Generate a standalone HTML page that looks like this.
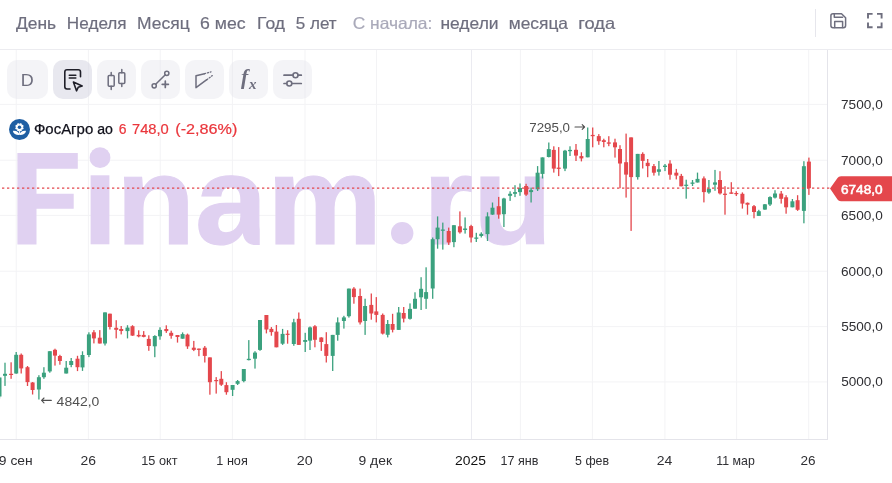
<!DOCTYPE html>
<html><head><meta charset="utf-8"><title>ФосАгро ао</title>
<style>
html,body{margin:0;padding:0;background:#fff;}
body{width:892px;height:483px;position:relative;overflow:hidden;font-family:"Liberation Sans",sans-serif;}
.t{position:absolute;white-space:nowrap;line-height:1;}
.g{will-change:transform;}
.ts{position:absolute;left:0;top:0;pointer-events:none;font-family:"Liberation Sans",sans-serif;}
.topbar{position:absolute;left:0;top:0;width:892px;height:49px;border-bottom:1px solid #ececf0;background:#fff;}
.divider{position:absolute;left:815px;top:9px;width:1px;height:28px;background:#e6e6ec;}
.btn{position:absolute;top:60.2px;height:38.6px;width:38.7px;border-radius:10px;background:rgba(228,228,236,0.40);}
.btn.active{background:rgba(214,214,226,0.55);}
.wm{position:absolute;white-space:nowrap;line-height:1;color:#e0d1f1;font-weight:bold;transform-origin:0 0;-webkit-text-stroke:1.2px #e0d1f1;}
svg{position:absolute;left:0;top:0;}
.logo{position:absolute;left:9.1px;top:119.1px;width:20.8px;height:20.8px;border-radius:50%;background:#1f5fa3;}
</style></head><body>
<div class="chart">
<svg width="892" height="483" viewBox="0 0 892 483">
<g><rect x="15.7" y="50" width="1" height="389.5" fill="#f3f3f5"/><rect x="87.9" y="50" width="1" height="389.5" fill="#f3f3f5"/><rect x="159.7" y="50" width="1" height="389.5" fill="#f3f3f5"/><rect x="231.9" y="50" width="1" height="389.5" fill="#f3f3f5"/><rect x="304.5" y="50" width="1" height="389.5" fill="#f3f3f5"/><rect x="376.0" y="50" width="1" height="389.5" fill="#f3f3f5"/><rect x="471.0" y="50" width="1" height="389.5" fill="#ebebf1"/><rect x="519.9" y="50" width="1" height="389.5" fill="#f3f3f5"/><rect x="591.9" y="50" width="1" height="389.5" fill="#f3f3f5"/><rect x="664.4" y="50" width="1" height="389.5" fill="#f3f3f5"/><rect x="736.1" y="50" width="1" height="389.5" fill="#f3f3f5"/><rect x="808.2" y="50" width="1" height="389.5" fill="#f3f3f5"/><rect x="0" y="103.9" width="827.5" height="1" fill="#f3f3f5"/><rect x="0" y="159.7" width="827.5" height="1" fill="#f3f3f5"/><rect x="0" y="214.9" width="827.5" height="1" fill="#f3f3f5"/><rect x="0" y="270.7" width="827.5" height="1" fill="#f3f3f5"/><rect x="0" y="326.1" width="827.5" height="1" fill="#f3f3f5"/><rect x="0" y="381.4" width="827.5" height="1" fill="#f3f3f5"/></g>
<g fill="#e0d1f1"><rect x="90.6" y="175.3" width="18.8" height="69"/><circle cx="100" cy="157.7" r="10.4"/><circle cx="402.2" cy="233.2" r="11.2"/><path d="M17.4 153H77.8V168.7H36.5V193.8H73.7V208.7H36.5V244.4H17.4Z"/></g>
</svg>
<span class="wm" style="left:116.33px;top:137.93px;font-size:133px;transform:scale(0.9760,0.942);">n</span><span class="wm" style="left:194.71px;top:137.93px;font-size:133px;transform:scale(0.9830,0.942);clip-path:inset(0 8.1px 0 0);">a</span><span class="wm" style="left:266.96px;top:137.93px;font-size:133px;transform:scale(0.9732,0.942);">m</span><span class="wm" style="left:422.51px;top:137.93px;font-size:133px;transform:scale(0.9667,0.942);">r</span><span class="wm" style="left:473.06px;top:137.93px;font-size:133px;transform:scale(0.9745,0.942);">u</span>
<svg width="892" height="483" viewBox="0 0 892 483">
<rect x="827" y="50" width="1" height="390" fill="#e4e4ea"/>
<rect x="0" y="439" width="828" height="1" fill="#e4e4ea"/>
<g><rect x="-1.15" y="377.0" width="1.3" height="21.5" fill="#3ba17e"/><rect x="-2.50" y="377.5" width="4" height="19.0" fill="#3ba17e"/><rect x="4.35" y="362.7" width="1.3" height="23.2" fill="#3ba17e"/><rect x="3.00" y="373.8" width="4" height="2.0" fill="#3ba17e"/><rect x="10.45" y="362.3" width="1.3" height="16.5" fill="#e4474c"/><rect x="9.10" y="373.8" width="4" height="1.2" fill="#e4474c"/><rect x="15.55" y="352.0" width="1.3" height="21.8" fill="#3ba17e"/><rect x="14.20" y="354.8" width="4" height="18.7" fill="#3ba17e"/><rect x="20.55" y="353.5" width="1.3" height="20.0" fill="#e4474c"/><rect x="19.20" y="354.8" width="4" height="13.6" fill="#e4474c"/><rect x="26.85" y="366.0" width="1.3" height="20.0" fill="#e4474c"/><rect x="25.50" y="367.2" width="4" height="14.9" fill="#e4474c"/><rect x="31.95" y="382.0" width="1.3" height="12.5" fill="#e4474c"/><rect x="30.60" y="382.5" width="4" height="7.5" fill="#e4474c"/><rect x="38.25" y="375.2" width="1.3" height="24.3" fill="#3ba17e"/><rect x="36.90" y="377.2" width="4" height="12.3" fill="#3ba17e"/><rect x="43.25" y="367.2" width="1.3" height="11.6" fill="#3ba17e"/><rect x="41.90" y="372.7" width="4" height="4.5" fill="#3ba17e"/><rect x="49.15" y="351.2" width="1.3" height="21.5" fill="#3ba17e"/><rect x="47.80" y="351.2" width="4" height="20.2" fill="#3ba17e"/><rect x="54.35" y="348.7" width="1.3" height="16.9" fill="#e4474c"/><rect x="53.00" y="349.8" width="4" height="5.8" fill="#e4474c"/><rect x="59.25" y="354.8" width="1.3" height="9.9" fill="#e4474c"/><rect x="57.90" y="356.0" width="4" height="5.0" fill="#e4474c"/><rect x="65.55" y="361.0" width="1.3" height="12.5" fill="#3ba17e"/><rect x="64.20" y="367.7" width="4" height="5.8" fill="#3ba17e"/><rect x="70.55" y="358.0" width="1.3" height="9.2" fill="#3ba17e"/><rect x="69.20" y="361.0" width="4" height="4.0" fill="#3ba17e"/><rect x="76.85" y="355.8" width="1.3" height="15.3" fill="#e4474c"/><rect x="75.50" y="358.7" width="4" height="8.5" fill="#e4474c"/><rect x="81.85" y="351.3" width="1.3" height="19.6" fill="#3ba17e"/><rect x="80.50" y="355.0" width="4" height="12.4" fill="#3ba17e"/><rect x="88.25" y="332.3" width="1.3" height="24.8" fill="#3ba17e"/><rect x="86.90" y="334.4" width="4" height="20.6" fill="#3ba17e"/><rect x="93.25" y="330.1" width="1.3" height="13.3" fill="#e4474c"/><rect x="91.90" y="332.3" width="4" height="6.1" fill="#e4474c"/><rect x="99.15" y="330.1" width="1.3" height="13.4" fill="#e4474c"/><rect x="97.80" y="337.7" width="4" height="5.8" fill="#e4474c"/><rect x="104.35" y="312.4" width="1.3" height="33.1" fill="#3ba17e"/><rect x="103.00" y="312.4" width="4" height="31.1" fill="#3ba17e"/><rect x="109.25" y="313.7" width="1.3" height="15.8" fill="#e4474c"/><rect x="107.90" y="313.7" width="4" height="13.3" fill="#e4474c"/><rect x="115.55" y="320.2" width="1.3" height="18.2" fill="#e4474c"/><rect x="114.20" y="327.8" width="4" height="2.0" fill="#e4474c"/><rect x="120.55" y="326.0" width="1.3" height="8.4" fill="#e4474c"/><rect x="119.20" y="329.0" width="4" height="2.0" fill="#e4474c"/><rect x="126.85" y="325.2" width="1.3" height="13.2" fill="#3ba17e"/><rect x="125.50" y="327.6" width="4" height="3.5" fill="#3ba17e"/><rect x="131.85" y="325.2" width="1.3" height="10.7" fill="#e4474c"/><rect x="130.50" y="326.2" width="4" height="9.4" fill="#e4474c"/><rect x="138.05" y="330.3" width="1.3" height="7.0" fill="#e4474c"/><rect x="136.70" y="334.9" width="4" height="1.5" fill="#e4474c"/><rect x="143.05" y="331.1" width="1.3" height="6.2" fill="#e4474c"/><rect x="141.70" y="334.9" width="4" height="2.0" fill="#e4474c"/><rect x="148.15" y="335.3" width="1.3" height="15.5" fill="#e4474c"/><rect x="146.80" y="338.9" width="4" height="7.1" fill="#e4474c"/><rect x="154.15" y="335.2" width="1.3" height="22.0" fill="#3ba17e"/><rect x="152.80" y="336.0" width="4" height="10.3" fill="#3ba17e"/><rect x="159.35" y="327.3" width="1.3" height="12.4" fill="#3ba17e"/><rect x="158.00" y="329.9" width="4" height="6.4" fill="#3ba17e"/><rect x="165.65" y="325.3" width="1.3" height="7.6" fill="#e4474c"/><rect x="164.30" y="329.0" width="4" height="2.1" fill="#e4474c"/><rect x="170.55" y="330.7" width="1.3" height="8.0" fill="#e4474c"/><rect x="169.20" y="332.8" width="4" height="3.0" fill="#e4474c"/><rect x="176.85" y="335.0" width="1.3" height="7.6" fill="#e4474c"/><rect x="175.50" y="335.0" width="4" height="2.0" fill="#e4474c"/><rect x="181.95" y="332.4" width="1.3" height="6.3" fill="#3ba17e"/><rect x="180.60" y="334.1" width="4" height="4.6" fill="#3ba17e"/><rect x="186.85" y="333.6" width="1.3" height="15.3" fill="#e4474c"/><rect x="185.50" y="334.6" width="4" height="11.8" fill="#e4474c"/><rect x="193.15" y="340.9" width="1.3" height="10.2" fill="#e4474c"/><rect x="191.80" y="347.7" width="4" height="2.2" fill="#e4474c"/><rect x="198.25" y="348.6" width="1.3" height="7.6" fill="#e4474c"/><rect x="196.90" y="348.6" width="4" height="1.3" fill="#e4474c"/><rect x="204.15" y="346.0" width="1.3" height="16.5" fill="#e4474c"/><rect x="202.80" y="347.7" width="4" height="8.2" fill="#e4474c"/><rect x="209.25" y="357.4" width="1.3" height="37.3" fill="#e4474c"/><rect x="207.90" y="357.4" width="4" height="24.8" fill="#e4474c"/><rect x="215.55" y="377.1" width="1.3" height="16.5" fill="#e4474c"/><rect x="214.20" y="380.0" width="4" height="1.2" fill="#e4474c"/><rect x="220.65" y="371.1" width="1.3" height="14.8" fill="#e4474c"/><rect x="219.30" y="378.8" width="4" height="5.9" fill="#e4474c"/><rect x="225.75" y="382.2" width="1.3" height="12.5" fill="#e4474c"/><rect x="224.40" y="385.1" width="4" height="7.1" fill="#e4474c"/><rect x="231.95" y="385.0" width="1.3" height="11.0" fill="#3ba17e"/><rect x="230.60" y="385.0" width="4" height="4.8" fill="#3ba17e"/><rect x="236.95" y="380.0" width="1.3" height="5.0" fill="#3ba17e"/><rect x="235.60" y="381.1" width="4" height="2.7" fill="#3ba17e"/><rect x="243.15" y="369.0" width="1.3" height="13.3" fill="#3ba17e"/><rect x="241.80" y="369.0" width="4" height="12.1" fill="#3ba17e"/><rect x="248.15" y="340.1" width="1.3" height="20.3" fill="#3ba17e"/><rect x="246.80" y="358.8" width="4" height="1.3" fill="#3ba17e"/><rect x="254.35" y="351.2" width="1.3" height="17.4" fill="#3ba17e"/><rect x="253.00" y="352.6" width="4" height="6.1" fill="#3ba17e"/><rect x="259.35" y="320.0" width="1.3" height="30.8" fill="#3ba17e"/><rect x="258.00" y="320.0" width="4" height="29.9" fill="#3ba17e"/><rect x="265.75" y="315.0" width="1.3" height="18.4" fill="#e4474c"/><rect x="264.40" y="315.0" width="4" height="14.5" fill="#e4474c"/><rect x="270.75" y="327.1" width="1.3" height="8.6" fill="#e4474c"/><rect x="269.40" y="328.9" width="4" height="3.2" fill="#e4474c"/><rect x="275.75" y="325.0" width="1.3" height="22.3" fill="#e4474c"/><rect x="274.40" y="331.6" width="4" height="15.7" fill="#e4474c"/><rect x="281.95" y="328.9" width="1.3" height="16.0" fill="#3ba17e"/><rect x="280.60" y="333.9" width="4" height="9.8" fill="#3ba17e"/><rect x="286.95" y="330.2" width="1.3" height="13.5" fill="#e4474c"/><rect x="285.60" y="333.7" width="4" height="1.2" fill="#e4474c"/><rect x="293.15" y="318.8" width="1.3" height="27.0" fill="#3ba17e"/><rect x="291.80" y="322.3" width="4" height="21.7" fill="#3ba17e"/><rect x="298.15" y="312.5" width="1.3" height="32.4" fill="#e4474c"/><rect x="296.80" y="318.8" width="4" height="26.1" fill="#e4474c"/><rect x="304.55" y="332.8" width="1.3" height="19.2" fill="#3ba17e"/><rect x="303.20" y="340.0" width="4" height="1.9" fill="#3ba17e"/><rect x="309.35" y="326.5" width="1.3" height="23.5" fill="#3ba17e"/><rect x="308.00" y="327.4" width="4" height="13.2" fill="#3ba17e"/><rect x="314.25" y="325.1" width="1.3" height="22.2" fill="#e4474c"/><rect x="312.90" y="326.3" width="4" height="13.5" fill="#e4474c"/><rect x="320.65" y="337.2" width="1.3" height="13.7" fill="#e4474c"/><rect x="319.30" y="337.5" width="4" height="4.5" fill="#e4474c"/><rect x="325.65" y="332.2" width="1.3" height="30.3" fill="#e4474c"/><rect x="324.30" y="344.1" width="4" height="11.8" fill="#e4474c"/><rect x="332.05" y="334.9" width="1.3" height="36.1" fill="#3ba17e"/><rect x="330.70" y="334.9" width="4" height="21.0" fill="#3ba17e"/><rect x="337.05" y="317.4" width="1.3" height="23.3" fill="#3ba17e"/><rect x="335.70" y="322.4" width="4" height="12.5" fill="#3ba17e"/><rect x="343.25" y="315.8" width="1.3" height="12.8" fill="#3ba17e"/><rect x="341.90" y="317.4" width="4" height="3.6" fill="#3ba17e"/><rect x="348.25" y="288.6" width="1.3" height="29.0" fill="#3ba17e"/><rect x="346.90" y="288.6" width="4" height="27.6" fill="#3ba17e"/><rect x="353.25" y="287.1" width="1.3" height="16.6" fill="#e4474c"/><rect x="351.90" y="288.6" width="4" height="8.5" fill="#e4474c"/><rect x="359.45" y="288.6" width="1.3" height="35.9" fill="#e4474c"/><rect x="358.10" y="296.0" width="4" height="26.4" fill="#e4474c"/><rect x="364.45" y="298.7" width="1.3" height="36.2" fill="#3ba17e"/><rect x="363.10" y="306.0" width="4" height="15.0" fill="#3ba17e"/><rect x="370.65" y="293.5" width="1.3" height="26.2" fill="#e4474c"/><rect x="369.30" y="304.9" width="4" height="8.6" fill="#e4474c"/><rect x="375.65" y="297.1" width="1.3" height="25.3" fill="#e4474c"/><rect x="374.30" y="311.4" width="4" height="3.5" fill="#e4474c"/><rect x="382.05" y="313.5" width="1.3" height="21.0" fill="#e4474c"/><rect x="380.70" y="314.9" width="4" height="18.7" fill="#e4474c"/><rect x="387.05" y="320.0" width="1.3" height="17.4" fill="#3ba17e"/><rect x="385.70" y="324.0" width="4" height="10.8" fill="#3ba17e"/><rect x="391.95" y="313.8" width="1.3" height="18.6" fill="#e4474c"/><rect x="390.60" y="324.0" width="4" height="5.8" fill="#e4474c"/><rect x="398.05" y="307.0" width="1.3" height="22.9" fill="#3ba17e"/><rect x="396.70" y="312.5" width="4" height="17.4" fill="#3ba17e"/><rect x="403.05" y="307.0" width="1.3" height="15.4" fill="#e4474c"/><rect x="401.70" y="313.0" width="4" height="5.6" fill="#e4474c"/><rect x="409.35" y="303.4" width="1.3" height="16.2" fill="#3ba17e"/><rect x="408.00" y="308.9" width="4" height="9.9" fill="#3ba17e"/><rect x="414.35" y="292.3" width="1.3" height="16.4" fill="#3ba17e"/><rect x="413.00" y="298.8" width="4" height="9.9" fill="#3ba17e"/><rect x="420.45" y="277.2" width="1.3" height="32.8" fill="#3ba17e"/><rect x="419.10" y="288.8" width="4" height="8.5" fill="#3ba17e"/><rect x="425.45" y="267.3" width="1.3" height="41.6" fill="#3ba17e"/><rect x="424.10" y="292.1" width="4" height="6.7" fill="#3ba17e"/><rect x="432.05" y="237.5" width="1.3" height="61.3" fill="#3ba17e"/><rect x="430.70" y="239.2" width="4" height="49.3" fill="#3ba17e"/><rect x="436.95" y="216.4" width="1.3" height="32.3" fill="#3ba17e"/><rect x="435.60" y="227.6" width="4" height="11.6" fill="#3ba17e"/><rect x="442.15" y="222.6" width="1.3" height="27.0" fill="#3ba17e"/><rect x="440.80" y="229.5" width="4" height="1.3" fill="#3ba17e"/><rect x="448.05" y="227.6" width="1.3" height="17.3" fill="#e4474c"/><rect x="446.70" y="231.0" width="4" height="11.5" fill="#e4474c"/><rect x="453.25" y="225.2" width="1.3" height="22.0" fill="#3ba17e"/><rect x="451.90" y="225.2" width="4" height="16.9" fill="#3ba17e"/><rect x="459.25" y="211.4" width="1.3" height="22.2" fill="#e4474c"/><rect x="457.90" y="226.3" width="4" height="6.0" fill="#e4474c"/><rect x="464.45" y="217.4" width="1.3" height="16.2" fill="#3ba17e"/><rect x="463.10" y="228.5" width="4" height="1.5" fill="#3ba17e"/><rect x="470.45" y="224.8" width="1.3" height="17.7" fill="#e4474c"/><rect x="469.10" y="226.1" width="4" height="11.4" fill="#e4474c"/><rect x="475.65" y="232.8" width="1.3" height="9.2" fill="#3ba17e"/><rect x="474.30" y="237.5" width="4" height="1.3" fill="#3ba17e"/><rect x="480.65" y="232.3" width="1.3" height="5.2" fill="#3ba17e"/><rect x="479.30" y="233.8" width="4" height="2.2" fill="#3ba17e"/><rect x="486.85" y="212.3" width="1.3" height="28.7" fill="#3ba17e"/><rect x="485.50" y="216.4" width="4" height="17.7" fill="#3ba17e"/><rect x="491.85" y="202.5" width="1.3" height="12.4" fill="#3ba17e"/><rect x="490.50" y="207.7" width="4" height="6.9" fill="#3ba17e"/><rect x="498.05" y="196.9" width="1.3" height="21.8" fill="#e4474c"/><rect x="496.70" y="206.2" width="4" height="8.4" fill="#e4474c"/><rect x="503.25" y="197.8" width="1.3" height="29.2" fill="#3ba17e"/><rect x="501.90" y="198.5" width="4" height="15.7" fill="#3ba17e"/><rect x="509.45" y="191.3" width="1.3" height="9.6" fill="#3ba17e"/><rect x="508.10" y="193.8" width="4" height="2.0" fill="#3ba17e"/><rect x="514.35" y="185.2" width="1.3" height="11.9" fill="#3ba17e"/><rect x="513.00" y="192.1" width="4" height="1.7" fill="#3ba17e"/><rect x="519.35" y="183.5" width="1.3" height="12.3" fill="#3ba17e"/><rect x="518.00" y="188.0" width="4" height="4.1" fill="#3ba17e"/><rect x="525.45" y="183.8" width="1.3" height="12.1" fill="#e4474c"/><rect x="524.10" y="186.0" width="4" height="8.6" fill="#e4474c"/><rect x="530.45" y="187.6" width="1.3" height="14.9" fill="#3ba17e"/><rect x="529.10" y="190.1" width="4" height="2.0" fill="#3ba17e"/><rect x="536.95" y="166.1" width="1.3" height="24.9" fill="#3ba17e"/><rect x="535.60" y="172.7" width="4" height="16.6" fill="#3ba17e"/><rect x="541.85" y="157.4" width="1.3" height="21.1" fill="#3ba17e"/><rect x="540.50" y="157.4" width="4" height="16.5" fill="#3ba17e"/><rect x="548.15" y="142.5" width="1.3" height="14.9" fill="#3ba17e"/><rect x="546.80" y="149.1" width="4" height="7.9" fill="#3ba17e"/><rect x="553.15" y="146.3" width="1.3" height="26.3" fill="#e4474c"/><rect x="551.80" y="149.9" width="4" height="18.7" fill="#e4474c"/><rect x="558.05" y="147.1" width="1.3" height="29.0" fill="#e4474c"/><rect x="556.70" y="167.6" width="4" height="1.3" fill="#e4474c"/><rect x="564.35" y="149.9" width="1.3" height="21.2" fill="#3ba17e"/><rect x="563.00" y="150.7" width="4" height="17.9" fill="#3ba17e"/><rect x="569.35" y="146.3" width="1.3" height="9.7" fill="#3ba17e"/><rect x="568.00" y="149.9" width="4" height="1.3" fill="#3ba17e"/><rect x="575.35" y="144.0" width="1.3" height="17.0" fill="#e4474c"/><rect x="574.00" y="149.8" width="4" height="5.8" fill="#e4474c"/><rect x="580.75" y="152.3" width="1.3" height="9.1" fill="#e4474c"/><rect x="579.40" y="156.1" width="4" height="2.3" fill="#e4474c"/><rect x="587.05" y="127.5" width="1.3" height="29.8" fill="#3ba17e"/><rect x="585.70" y="139.0" width="4" height="18.3" fill="#3ba17e"/><rect x="592.05" y="127.5" width="1.3" height="19.8" fill="#e4474c"/><rect x="590.70" y="134.9" width="4" height="1.3" fill="#e4474c"/><rect x="598.15" y="134.1" width="1.3" height="10.7" fill="#e4474c"/><rect x="596.80" y="136.1" width="4" height="5.1" fill="#e4474c"/><rect x="603.15" y="138.7" width="1.3" height="8.6" fill="#e4474c"/><rect x="601.80" y="140.2" width="4" height="1.8" fill="#e4474c"/><rect x="608.15" y="136.2" width="1.3" height="10.0" fill="#e4474c"/><rect x="606.80" y="142.4" width="4" height="1.3" fill="#e4474c"/><rect x="614.35" y="138.7" width="1.3" height="18.9" fill="#e4474c"/><rect x="613.00" y="142.4" width="4" height="4.9" fill="#e4474c"/><rect x="619.35" y="145.2" width="1.3" height="43.0" fill="#e4474c"/><rect x="618.00" y="149.0" width="4" height="14.5" fill="#e4474c"/><rect x="625.45" y="133.6" width="1.3" height="64.0" fill="#e4474c"/><rect x="624.10" y="162.2" width="4" height="12.4" fill="#e4474c"/><rect x="630.45" y="137.4" width="1.3" height="93.5" fill="#e4474c"/><rect x="629.10" y="137.4" width="4" height="39.7" fill="#e4474c"/><rect x="637.05" y="153.9" width="1.3" height="25.7" fill="#3ba17e"/><rect x="635.70" y="153.9" width="4" height="23.2" fill="#3ba17e"/><rect x="642.05" y="152.3" width="1.3" height="16.2" fill="#e4474c"/><rect x="640.70" y="153.9" width="4" height="7.0" fill="#e4474c"/><rect x="647.05" y="159.0" width="1.3" height="18.2" fill="#e4474c"/><rect x="645.70" y="162.8" width="4" height="3.3" fill="#e4474c"/><rect x="653.25" y="164.0" width="1.3" height="11.6" fill="#e4474c"/><rect x="651.90" y="166.1" width="4" height="6.6" fill="#e4474c"/><rect x="658.25" y="161.0" width="1.3" height="14.6" fill="#3ba17e"/><rect x="656.90" y="169.3" width="4" height="2.5" fill="#3ba17e"/><rect x="664.35" y="164.0" width="1.3" height="7.1" fill="#3ba17e"/><rect x="663.00" y="165.6" width="4" height="1.4" fill="#3ba17e"/><rect x="669.35" y="160.2" width="1.3" height="19.5" fill="#e4474c"/><rect x="668.00" y="163.6" width="4" height="11.1" fill="#e4474c"/><rect x="675.65" y="168.9" width="1.3" height="10.5" fill="#e4474c"/><rect x="674.30" y="172.7" width="4" height="2.9" fill="#e4474c"/><rect x="680.65" y="173.9" width="1.3" height="12.4" fill="#e4474c"/><rect x="679.30" y="175.9" width="4" height="10.4" fill="#e4474c"/><rect x="685.55" y="179.7" width="1.3" height="19.0" fill="#3ba17e"/><rect x="684.20" y="184.7" width="4" height="1.2" fill="#3ba17e"/><rect x="691.85" y="180.0" width="1.3" height="6.0" fill="#3ba17e"/><rect x="690.50" y="182.5" width="4" height="1.3" fill="#3ba17e"/><rect x="696.85" y="172.6" width="1.3" height="9.9" fill="#3ba17e"/><rect x="695.50" y="178.9" width="4" height="3.6" fill="#3ba17e"/><rect x="703.25" y="176.4" width="1.3" height="26.0" fill="#e4474c"/><rect x="701.90" y="178.4" width="4" height="13.7" fill="#e4474c"/><rect x="708.25" y="180.0" width="1.3" height="13.8" fill="#3ba17e"/><rect x="706.90" y="188.8" width="4" height="3.7" fill="#3ba17e"/><rect x="714.35" y="169.9" width="1.3" height="20.9" fill="#3ba17e"/><rect x="713.00" y="182.4" width="4" height="2.3" fill="#3ba17e"/><rect x="719.35" y="171.2" width="1.3" height="23.3" fill="#e4474c"/><rect x="718.00" y="180.0" width="4" height="13.4" fill="#e4474c"/><rect x="724.35" y="186.2" width="1.3" height="28.5" fill="#e4474c"/><rect x="723.00" y="193.7" width="4" height="1.2" fill="#e4474c"/><rect x="730.65" y="182.2" width="1.3" height="11.6" fill="#e4474c"/><rect x="729.30" y="192.4" width="4" height="1.4" fill="#e4474c"/><rect x="735.65" y="191.2" width="1.3" height="4.8" fill="#e4474c"/><rect x="734.30" y="193.0" width="4" height="1.2" fill="#e4474c"/><rect x="741.75" y="192.4" width="1.3" height="16.2" fill="#e4474c"/><rect x="740.40" y="193.8" width="4" height="9.8" fill="#e4474c"/><rect x="746.85" y="202.5" width="1.3" height="12.2" fill="#e4474c"/><rect x="745.50" y="202.8" width="4" height="1.9" fill="#e4474c"/><rect x="753.35" y="205.0" width="1.3" height="13.3" fill="#e4474c"/><rect x="752.00" y="206.2" width="4" height="5.8" fill="#e4474c"/><rect x="758.15" y="209.8" width="1.3" height="6.1" fill="#3ba17e"/><rect x="756.80" y="211.2" width="4" height="4.7" fill="#3ba17e"/><rect x="764.25" y="204.0" width="1.3" height="5.8" fill="#3ba17e"/><rect x="762.90" y="204.3" width="4" height="5.3" fill="#3ba17e"/><rect x="769.35" y="196.3" width="1.3" height="9.7" fill="#3ba17e"/><rect x="768.00" y="197.1" width="4" height="7.4" fill="#3ba17e"/><rect x="774.35" y="190.2" width="1.3" height="8.3" fill="#3ba17e"/><rect x="773.00" y="193.5" width="4" height="4.1" fill="#3ba17e"/><rect x="780.55" y="191.0" width="1.3" height="12.6" fill="#e4474c"/><rect x="779.20" y="193.6" width="4" height="5.2" fill="#e4474c"/><rect x="785.45" y="195.2" width="1.3" height="18.5" fill="#e4474c"/><rect x="784.10" y="197.3" width="4" height="10.0" fill="#e4474c"/><rect x="791.75" y="199.0" width="1.3" height="8.3" fill="#3ba17e"/><rect x="790.40" y="201.3" width="4" height="6.0" fill="#3ba17e"/><rect x="796.95" y="195.2" width="1.3" height="15.7" fill="#e4474c"/><rect x="795.60" y="200.2" width="4" height="9.6" fill="#e4474c"/><rect x="803.25" y="161.2" width="1.3" height="62.1" fill="#3ba17e"/><rect x="801.90" y="166.2" width="4" height="44.7" fill="#3ba17e"/><rect x="808.25" y="157.6" width="1.3" height="37.3" fill="#e4474c"/><rect x="806.90" y="161.6" width="4" height="26.6" fill="#e4474c"/></g>
<line x1="-3" y1="188.1" x2="832" y2="188.1" stroke="#e4474c" stroke-width="1.3" stroke-dasharray="2.3 2.7"/>
<path d="M830 188.5 L837.5 178 Q838.5 176.3 841 176.3 L892 176.3 L892 201.3 L841 201.3 Q838.5 201.3 837.5 199.6 Z" fill="#e4474c"/>
<g stroke="#505050" stroke-width="1.1" fill="none" stroke-linecap="round" stroke-linejoin="round">
<path d="M51.3 400.4H41.6M44 398L41.6 400.4L44 402.8"/>
<path d="M575 127H584.6M582.2 124.6L584.6 127L582.2 129.4"/>
</g>
</svg>
</div>
<div class="logo"></div>
<svg class="ts g" width="892" height="483" viewBox="0 0 892 483">
<text x="841.06" y="108.90" font-size="12.8" fill="#2f2f33" textLength="41.67" lengthAdjust="spacingAndGlyphs">7500,0</text>
<text x="841.06" y="164.70" font-size="12.8" fill="#2f2f33" textLength="41.67" lengthAdjust="spacingAndGlyphs">7000,0</text>
<text x="841.06" y="219.90" font-size="12.8" fill="#2f2f33" textLength="41.67" lengthAdjust="spacingAndGlyphs">6500,0</text>
<text x="841.06" y="275.70" font-size="12.8" fill="#2f2f33" textLength="41.67" lengthAdjust="spacingAndGlyphs">6000,0</text>
<text x="841.19" y="331.10" font-size="12.8" fill="#2f2f33" textLength="41.54" lengthAdjust="spacingAndGlyphs">5500,0</text>
<text x="841.19" y="386.40" font-size="12.8" fill="#2f2f33" textLength="41.54" lengthAdjust="spacingAndGlyphs">5000,0</text>
<text x="840.96" y="193.60" font-size="12.8" fill="#fff" stroke="#fff" stroke-width="0.55" textLength="41.67" lengthAdjust="spacingAndGlyphs">6748,0</text>
<text x="-1.18" y="464.90" font-size="12.8" fill="#2f2f33" textLength="33.84" lengthAdjust="spacingAndGlyphs">9 сен</text>
<text x="80.56" y="464.90" font-size="12.8" fill="#2f2f33" textLength="15.48" lengthAdjust="spacingAndGlyphs">26</text>
<text x="141.24" y="464.90" font-size="12.8" fill="#2f2f33" textLength="36.29" lengthAdjust="spacingAndGlyphs">15 окт</text>
<text x="216.34" y="464.90" font-size="12.8" fill="#2f2f33" textLength="31.44" lengthAdjust="spacingAndGlyphs">1 ноя</text>
<text x="296.76" y="464.90" font-size="12.8" fill="#2f2f33" textLength="15.92" lengthAdjust="spacingAndGlyphs">20</text>
<text x="358.52" y="464.90" font-size="12.8" fill="#2f2f33" textLength="33.53" lengthAdjust="spacingAndGlyphs">9 дек</text>
<text x="455.06" y="464.90" font-size="12.8" fill="#111" textLength="30.85" lengthAdjust="spacingAndGlyphs">2025</text>
<text x="500.44" y="464.90" font-size="12.8" fill="#2f2f33" textLength="37.87" lengthAdjust="spacingAndGlyphs">17 янв</text>
<text x="575.09" y="464.90" font-size="12.8" fill="#2f2f33" textLength="34.01" lengthAdjust="spacingAndGlyphs">5 фев</text>
<text x="656.76" y="464.90" font-size="12.8" fill="#2f2f33" textLength="15.55" lengthAdjust="spacingAndGlyphs">24</text>
<text x="716.34" y="464.90" font-size="12.8" fill="#2f2f33" textLength="38.48" lengthAdjust="spacingAndGlyphs">11 мар</text>
<text x="800.56" y="464.90" font-size="12.8" fill="#2f2f33" textLength="15.08" lengthAdjust="spacingAndGlyphs">26</text>
<text x="56.64" y="405.80" font-size="12.8" fill="#505050" textLength="42.69" lengthAdjust="spacingAndGlyphs">4842,0</text>
<text x="529.26" y="132.30" font-size="12.8" fill="#505050" textLength="40.77" lengthAdjust="spacingAndGlyphs">7295,0</text>
</svg>
<svg class="ts" width="892" height="483" viewBox="0 0 892 483">
<text x="33.94" y="133.90" font-size="13.8" fill="#12121c" stroke="#12121c" stroke-width="0.25" textLength="59.32" lengthAdjust="spacingAndGlyphs">ФосАгро</text>
<text x="97.15" y="133.90" font-size="13.8" fill="#12121c" stroke="#12121c" stroke-width="0.25" textLength="15.74" lengthAdjust="spacingAndGlyphs">ао</text>
<text x="118.71" y="133.90" font-size="13.8" fill="#ea363c" stroke="#ea363c" stroke-width="0.2" textLength="7.76" lengthAdjust="spacingAndGlyphs">6</text>
<text x="132.01" y="133.90" font-size="13.8" fill="#ea363c" stroke="#ea363c" stroke-width="0.2" textLength="36.81" lengthAdjust="spacingAndGlyphs">748,0</text>
<text x="175.27" y="133.90" font-size="13.8" fill="#ea363c" stroke="#ea363c" stroke-width="0.2" textLength="62.02" lengthAdjust="spacingAndGlyphs">(-2,86%)</text>
</svg>

<div class="topbar"></div>
<div class="divider"></div>

<svg class="ts g" width="892" height="483" viewBox="0 0 892 483">
<text x="16.02" y="28.50" font-size="16.5" fill="#6e6e7e" stroke="#6e6e7e" stroke-width="0.2" textLength="40.17" lengthAdjust="spacingAndGlyphs">День</text>
<text x="66.88" y="28.50" font-size="16.5" fill="#6e6e7e" stroke="#6e6e7e" stroke-width="0.2" textLength="59.74" lengthAdjust="spacingAndGlyphs">Неделя</text>
<text x="137.08" y="28.50" font-size="16.5" fill="#6e6e7e" stroke="#6e6e7e" stroke-width="0.2" textLength="52.63" lengthAdjust="spacingAndGlyphs">Месяц</text>
<text x="200.08" y="28.50" font-size="16.5" fill="#6e6e7e" stroke="#6e6e7e" stroke-width="0.2" textLength="45.60" lengthAdjust="spacingAndGlyphs">6 мес</text>
<text x="257.08" y="28.50" font-size="16.5" fill="#6e6e7e" stroke="#6e6e7e" stroke-width="0.2" textLength="27.91" lengthAdjust="spacingAndGlyphs">Год</text>
<text x="295.74" y="28.50" font-size="16.5" fill="#6e6e7e" stroke="#6e6e7e" stroke-width="0.2" textLength="40.87" lengthAdjust="spacingAndGlyphs">5 лет</text>
<text x="352.68" y="28.50" font-size="16.5" fill="#a9a9b9" stroke="#a9a9b9" stroke-width="0.2" textLength="79.63" lengthAdjust="spacingAndGlyphs">С начала:</text>
<text x="440.45" y="28.50" font-size="16.5" fill="#6e6e7e" stroke="#6e6e7e" stroke-width="0.2" textLength="58.11" lengthAdjust="spacingAndGlyphs">недели</text>
<text x="508.75" y="28.50" font-size="16.5" fill="#6e6e7e" stroke="#6e6e7e" stroke-width="0.2" textLength="59.24" lengthAdjust="spacingAndGlyphs">месяца</text>
<text x="578.35" y="28.50" font-size="16.5" fill="#6e6e7e" stroke="#6e6e7e" stroke-width="0.2" textLength="36.78" lengthAdjust="spacingAndGlyphs">года</text>
</svg>

<div class="btn" style="left:7.2px;width:40.6px"></div>
<div class="btn active" style="left:53.2px"></div>
<div class="btn" style="left:97.2px"></div>
<div class="btn" style="left:141.2px"></div>
<div class="btn" style="left:185.2px"></div>
<div class="btn" style="left:229.2px"></div>
<div class="btn" style="left:273.2px"></div>
<svg width="892" height="483" viewBox="0 0 892 483" fill="none" stroke-linecap="round" stroke-linejoin="round">
<g stroke="#1f1f29" stroke-width="1.6">
<path d="M70 89H67Q64.8 89 64.8 86.8V72Q64.8 69.8 67 69.8H78.300Q80.5 69.800 80.500 72V76.700"/>
<path d="M69.300 75.200H75.800M69.300 78H75.800"/>
<path d="M73.400 82.100L82.200 85.900L78.200 87.300L76.500 90.800Z"/>
</g>
<g stroke="#6e6e7e" stroke-width="1.5">
<rect x="108.200" y="75.600" width="6" height="10.600" rx="1"/><path d="M111.200 72.600V75.600M111.200 86.200V89.500"/>
<rect x="118.800" y="72.800" width="6" height="10.600" rx="1"/><path d="M121.800 69.500V72.800M121.800 83.400V86.500"/>
<circle cx="166.800" cy="73.300" r="2.100"/><circle cx="154.200" cy="85.800" r="2.100"/><path d="M155.700 84.300L165.300 74.800"/>
<path d="M162.200 84.300H168.400M165.300 81.200V87.400" stroke-width="1.7"/>
<path d="M204.500 73.700L196 75.700V87.700L206.800 79.700"/>
<path d="M204.500 73.700L211 71.800M206.800 79.700L212.300 75.600" stroke-dasharray="1.2 1.800" stroke-width="1.300"/>
<path d="M284 75.200H292.800M298.200 75.200H301.300M284 83.500H286.600M292 83.500H301.300" stroke-width="1.700"/>
<circle cx="295.500" cy="75.200" r="2.500" stroke-width="1.600"/><circle cx="289.300" cy="83.500" r="2.500" stroke-width="1.600"/>
</g>
<g stroke="#6e6e7e" stroke-width="1.500">
<path d="M833 13.700H841.500L845.600 17.800V25.600Q845.600 27.700 843.500 27.700H833Q830.900 27.700 830.900 25.600V15.800Q830.900 13.700 833 13.700Z"/>
<path d="M834.300 14V17.300H842.600"/>
<path d="M834.700 27.500V21.500H842.600V27.500"/>
</g>
<g stroke="#6e6e7e" stroke-width="1.900" stroke-linecap="butt" stroke-linejoin="miter">
<path d="M868 18.500V13.900H872.600M877 13.900H881.600V18.500M881.600 22.600V27.200H877M872.600 27.200H868V22.600"/>
</g>
<g fill="#fff" stroke="none">
<circle cx="22.22" cy="128.35" r="1.25"/><circle cx="20.60" cy="129.97" r="1.25"/><circle cx="18.30" cy="129.97" r="1.25"/><circle cx="16.68" cy="128.35" r="1.25"/><circle cx="16.68" cy="126.05" r="1.25"/><circle cx="18.30" cy="124.43" r="1.25"/><circle cx="20.60" cy="124.43" r="1.25"/><circle cx="22.22" cy="126.05" r="1.25"/><circle cx="19.45" cy="127.2" r="2.7"/><circle cx="19.45" cy="127.2" r="1.75" fill="#1f5fa3"/>
<path d="M12.9 130.9C13.3 133.9 16.2 135.1 19.45 134.9C19.3 132.3 16.6 130.5 12.9 130.9ZM26 130.9C25.6 133.9 22.7 135.1 19.45 134.9C19.6 132.3 22.3 130.5 26 130.9Z"/>
<rect x="19" y="130.300" width="0.900" height="4"/>
</g>
</svg>
<span class="t g" style="left:241px;top:67.2px;font-size:21.5px;font-family:'Liberation Serif',serif;font-style:italic;font-weight:bold;color:#6e6e7e">f</span>
<span class="t g" style="left:248.6px;top:77.4px;font-size:15px;font-family:'Liberation Serif',serif;font-style:italic;font-weight:bold;color:#6e6e7e">x</span>
<svg class="ts g" width="892" height="483" viewBox="0 0 892 483">
<text x="20.74" y="86.00" font-size="17" fill="#6e6e7e" textLength="12.96" lengthAdjust="spacingAndGlyphs">D</text>
</svg>

</body></html>
